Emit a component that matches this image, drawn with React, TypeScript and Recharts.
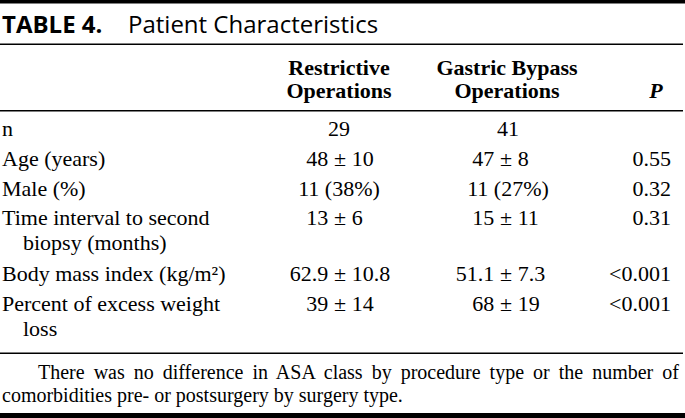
import React from "react";
import { Surface, Layer, Rectangle, Text } from "recharts";

const W = 685;
const H = 418;

const titleLabel = "TABLE 4.";
const titleText = "Patient Characteristics";
const headerRestrictive = ["Restrictive", "Operations"];
const headerBypass = ["Gastric Bypass", "Operations"];
const headerP = "P";

const rowLabels: string[][] = [
  ["n"],
  ["Age (years)"],
  ["Male (%)"],
  ["Time interval to second", "biopsy (months)"],
  ["Body mass index (kg/m²)"],
  ["Percent of excess weight", "loss"],
];
const restrictive = ["29", "48 ± 10", "11 (38%)", "13 ± 6", "62.9 ± 10.8", "39 ± 14"];
const bypass = ["41", "47 ± 8", "11 (27%)", "15 ± 11", "51.1 ± 7.3", "68 ± 19"];
const pValues = ["", "0.55", "0.32", "0.31", "<0.001", "<0.001"];
const footnote = [
  "There was no difference in ASA class by procedure type or the number of",
  "comorbidities pre- or postsurgery by surgery type.",
];

const serif = "'Liberation Serif', 'Times New Roman', serif";
const sans = "'Open Sans', 'Noto Sans', sans-serif";
const FS = 22;

const rowY = [136, 166, 196, 225, 281, 311];
const wrapGap = 25;

function Cell({ value, pmX, center, y }: { value: string; pmX: number; center: number; y: number }) {
  const style = { fontFamily: serif, fontSize: FS };
  if (value.includes("±")) {
    const [l, r] = value.split(" ± ");
    return (
      <Layer>
        <Text x={pmX - 11.7} y={y} textAnchor="end" style={style} fill="#000">{l}</Text>
        <Text x={pmX} y={y} textAnchor="middle" style={style} fill="#000">±</Text>
        <Text x={pmX + 11.7} y={y} textAnchor="start" style={style} fill="#000">{r}</Text>
      </Layer>
    );
  }
  return (
    <Text x={center} y={y} textAnchor="middle" style={style} fill="#000">{value}</Text>
  );
}

export default function App() {
  const bodyStyle = { fontFamily: serif, fontSize: FS };
  const boldStyle = { fontFamily: serif, fontSize: FS, fontWeight: 700 };
  return (
    <div style={{ position: "absolute", left: 0, top: 0, width: W, height: H, background: "#fff" }}>
      <Surface width={W} height={H}>
        <Rectangle x={0} y={0} width={W} height={3.5} fill="#000" />
        <Text x={2} y={33} style={{ fontFamily: sans, fontSize: 24, fontWeight: 700 }} fill="#000">{titleLabel}</Text>
        <Text x={128} y={33} style={{ fontFamily: sans, fontSize: 24 }} fill="#000">{titleText}</Text>
        <Rectangle x={0} y={43.5} width={683} height={1.5} fill="#000" />

        {headerRestrictive.map((t, i) => (
          <Text key={"hr" + i} x={339} y={75 + i * 23} textAnchor="middle" style={boldStyle} fill="#000">{t}</Text>
        ))}
        {headerBypass.map((t, i) => (
          <Text key={"hb" + i} x={507} y={75 + i * 23} textAnchor="middle" style={boldStyle} fill="#000">{t}</Text>
        ))}
        <Text x={656} y={98} textAnchor="middle" style={{ ...boldStyle, fontStyle: "italic" }} fill="#000">{headerP}</Text>
        <Rectangle x={0} y={110} width={683} height={1.5} fill="#000" />

        {rowLabels.map((lines, r) => (
          <Layer key={"row" + r}>
            {lines.map((t, j) => (
              <Text key={j} x={j === 0 ? 2 : 23} y={rowY[r] + j * wrapGap} style={bodyStyle} fill="#000">{t}</Text>
            ))}
            <Cell value={restrictive[r]} pmX={340} center={339} y={rowY[r]} />
            <Cell value={bypass[r]} pmX={506} center={508} y={rowY[r]} />
            {pValues[r] ? (
              <Text x={671} y={rowY[r]} textAnchor="end" style={bodyStyle} fill="#000">{pValues[r]}</Text>
            ) : null}
          </Layer>
        ))}

        <Rectangle x={0} y={352.5} width={683} height={1.5} fill="#000" />
        <Text x={38} y={379} style={{ fontFamily: serif, fontSize: 20, wordSpacing: 4 }} fill="#000">{footnote[0]}</Text>
        <Text x={2} y={402} style={{ fontFamily: serif, fontSize: 20 }} fill="#000">{footnote[1]}</Text>
        <Rectangle x={0} y={413} width={W} height={5} fill="#000" />
      </Surface>
    </div>
  );
}
